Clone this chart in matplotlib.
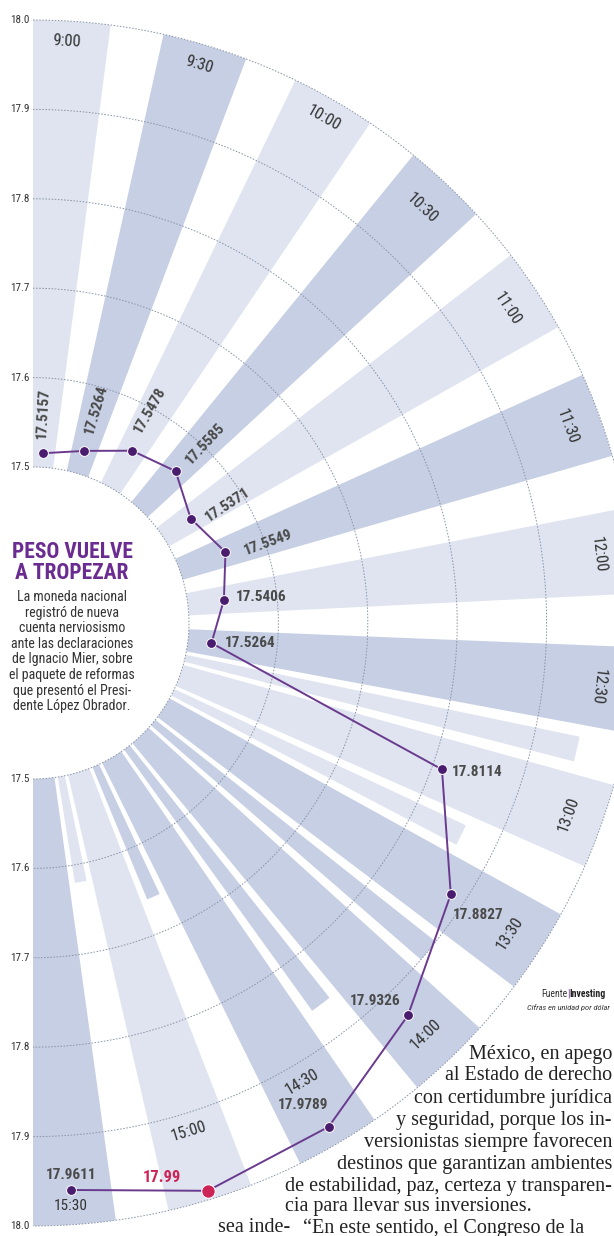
import numpy as np
import matplotlib.pyplot as plt
from matplotlib import font_manager

# Datos: tipo de cambio peso/dolar durante la jornada
horas = ['9:00', '9:30', '10:00', '10:30', '11:00', '11:30', '12:00',
         '12:30', '13:00', '13:30', '14:00', '14:30', '15:00', '15:30']
valores = [17.5157, 17.5264, 17.5478, 17.5585, 17.5371, 17.5549, 17.5406,
           17.5264, 17.8114, 17.8827, 17.9326, 17.9789, 17.99, 17.9611]
etiquetas = ['17.5157', '17.5264', '17.5478', '17.5585', '17.5371', '17.5549', '17.5406',
             '17.5264', '17.8114', '17.8827', '17.9326', '17.9789', '17.99', '17.9611']
tonos = ['claro', 'oscuro', 'claro', 'oscuro', 'claro', 'oscuro', 'claro',
         'oscuro', 'claro', 'oscuro', 'oscuro', 'oscuro', 'claro', 'oscuro']
escala = [17.5, 17.6, 17.7, 17.8, 17.9, 18.0]

# fuentes disponibles
fuentes = font_manager.fontManager.ttflist
nombres = {f.name for f in fuentes}
angosta, estira, factor = 'DejaVu Sans', 'normal', 0.82
for c in ['Liberation Sans Narrow', 'Roboto Condensed', 'Open Sans Condensed',
          'Noto Sans Condensed', 'Arial Narrow']:
    if c in nombres:
        angosta, factor = c, 1.0
        break
else:
    for f in fuentes:
        if f.name in ('Noto Sans', 'DejaVu Sans', 'Roboto', 'Open Sans') and 'ondensed' in str(f.stretch) + f.fname:
            angosta, estira, factor = f.name, 'condensed', 1.0
            break
serif = 'Liberation Serif' if 'Liberation Serif' in nombres else 'DejaVu Serif'


def fs(x):
    return x * factor


colores = {'claro': '#dfe4f0', 'oscuro': '#c6cfe3'}
morado = '#6a3a8e'
punto = '#4a1c6e'
rojo = '#cc2456'
gris = '#4a4a4a'

W, H = 614, 1236
cx, cy, R = 33, 623, 603  # centro y radio en pixeles

fig = plt.figure(figsize=(W / 100, H / 100), dpi=100)
ax = fig.add_axes([(cx - R) / W, (H - cy - R) / H, 2 * R / W, 2 * R / H], projection='polar')
ax.set_theta_zero_location('N')
ax.set_theta_direction(-1)
# el hueco central (valores < 17.5) queda en blanco
ax.set_ylim(17.3255, 18.0)
ax.set_facecolor('none')
ax.patch.set_edgecolor('none')
ax.grid(False)
ax.set_xticks([])
ax.set_yticks([])
for s in ax.spines.values():
    s.set_visible(False)

# angulo de cada media hora
paso = 13.3
ang = np.array([3.3 + paso * i for i in range(len(horas))])
th = np.radians(ang)

# franjas principales
ancho = 8.2
for i, a in enumerate(ang):
    izq = max(0, a - ancho / 2)
    der = min(180, a + ancho / 2)
    ax.bar(np.radians(izq), 0.5, width=np.radians(der - izq), bottom=17.5,
           align='edge', color=colores[tonos[i]], linewidth=0, zorder=1)

# franjas intermedias de la parte baja (decorativas)
extra = {7: ('claro', 17.95), 8: ('claro', 17.86), 9: ('oscuro', 17.9),
         10: ('oscuro', 17.86), 11: ('oscuro', 17.66), 12: ('claro', 17.62)}
for i, (tono, fin) in extra.items():
    c = (ang[i] + ang[i + 1]) / 2
    ax.bar(np.radians(c - 1.3), fin - 17.5, width=np.radians(2.6), bottom=17.5,
           align='edge', color=colores[tono], linewidth=0, zorder=1)

# circulos punteados
tt = np.linspace(0, np.pi, 300)
for v in escala:
    ax.plot(tt, np.full_like(tt, v), color='#8a95a8', lw=0.7,
            linestyle=(0, (1.6, 1.6)), zorder=2, clip_on=False)
    for t in (0, np.pi):
        ax.annotate(f'{v:.1f}', xy=(t, v), xytext=(-3, 0), textcoords='offset pixels',
                    ha='right', va='center', fontsize=fs(8), family=angosta,
                    fontstretch=estira, color='#333333', annotation_clip=False)

# linea y puntos
ax.plot(th, valores, color=morado, lw=1.4, zorder=3)
ax.scatter(th[:-2], valores[:-2], s=50, color=punto, edgecolor='white', linewidth=0.7, zorder=4)
ax.scatter(th[-1:], valores[-1:], s=50, color=punto, edgecolor='white', linewidth=0.7, zorder=4)
ax.scatter(th[-2:-1], valores[-2:-1], s=95, color=rojo, edgecolor='white', linewidth=0.8, zorder=4)

# etiquetas de valores
desfases = [(0, 40), (12, 41), (18, 41), (30, 27), (37, 14), (43, 10), (12, 3),
            (13, 0), (10, -3), (2, -21), (-8, 14), (-26, 22), (-46, 13), (0, 15)]
for i, txt in enumerate(etiquetas):
    dx, dy = desfases[i]
    if i < 6:
        rot, ha = 90 - ang[i], 'center'
    elif i in (6, 7, 8, 9):
        rot, ha = 0, 'left'
    elif i == 10:
        rot, ha = 0, 'right'
    else:
        rot, ha = 0, 'center'
    ax.annotate(txt, xy=(th[i], valores[i]), xytext=(dx, dy), textcoords='offset pixels',
                ha=ha, va='center', rotation=rot, rotation_mode='anchor',
                fontsize=fs(12 if i == 12 else 11), fontweight='bold', family=angosta,
                fontstretch=estira, color=rojo if i == 12 else gris, zorder=5)

# etiquetas de horas
for i, h in enumerate(horas):
    a = ang[i]
    if i == len(horas) - 1:
        ax.annotate(h, xy=(th[i], valores[i]), xytext=(0, -16), textcoords='offset pixels',
                    ha='center', va='center', fontsize=fs(11), family=angosta,
                    fontstretch=estira, color='#333333')
        continue
    if h in ('14:30', '15:00'):
        r = 17.92
    elif i < 3:
        r = 17.977
    else:
        r = 17.962
    rot = -a if a < 100 else 180 - a
    ax.text(th[i], r, h, rotation=rot, rotation_mode='anchor', ha='center', va='center',
            fontsize=fs(12), family=angosta, fontstretch=estira, color='#333333', zorder=5)

# titulo y texto central
for k, linea in enumerate(['PESO VUELVE', 'A TROPEZAR']):
    fig.text(72 / W, 1 - (552 + 21 * k) / H, linea, ha='center', va='center',
             fontsize=fs(15.5), fontweight='bold', family=angosta, fontstretch=estira,
             color='#6b2c91')
cuerpo = ['La moneda nacional', 'registró de nueva', 'cuenta nerviosismo',
          'ante las declaraciones', 'de Ignacio Mier, sobre', 'el paquete de reformas',
          'que presentó el Presi-', 'dente López Obrador.']
for k, linea in enumerate(cuerpo):
    fig.text(72 / W, 1 - (597 + 15.6 * k) / H, linea, ha='center', va='center',
             fontsize=fs(10), family=angosta, fontstretch=estira, color='#333333')

# fuente
rend = fig.canvas.get_renderer()
t1 = fig.text(541 / W, 1 - 994 / H, 'Fuente', ha='left', va='center', fontsize=fs(7),
              family=angosta, fontstretch=estira, color='#333333')
x1 = t1.get_window_extent(rend).x1
t2 = fig.text(x1 / W, 1 - 994 / H, '|', ha='left', va='center', fontsize=fs(7),
              family=angosta, color='#6b2c91')
x2 = t2.get_window_extent(rend).x1
fig.text(x2 / W, 1 - 994 / H, 'Investing', ha='left', va='center', fontsize=fs(7),
         fontweight='bold', family=angosta, fontstretch=estira, color='#222222')
fig.text(527 / W, 1 - 1008 / H, 'Cifras en unidad por dólar', ha='left', va='center',
         fontsize=fs(6), style='italic', family=angosta, fontstretch=estira, color='#333333')

# texto del articulo (columna justificada a la derecha)
articulo = ['México, en apego', 'al Estado de derecho', 'con certidumbre jurídica',
            'y seguridad, porque los in-', 'versionistas siempre favorecen',
            'destinos que garantizan ambientes', 'de estabilidad, paz, certeza y transparen-']
for k, linea in enumerate(articulo):
    fig.text(612 / W, 1 - (1054 + 22 * k) / H, linea, ha='right', va='center',
             fontsize=14.5, family=serif, color='#222222')
fig.text(285 / W, 1 - 1207 / H, 'cia para llevar sus inversiones.', ha='left', va='center',
         fontsize=14.5, family=serif, color='#222222')
fig.text(303 / W, 1 - 1228 / H, '“En este sentido, el Congreso de la', ha='left', va='center',
         fontsize=14.5, family=serif, color='#222222')
fig.text(290 / W, 1 - 1228 / H, 'sea inde-', ha='right', va='center',
         fontsize=14.5, family=serif, color='#222222')

fig.savefig('out.png', dpi=100)
